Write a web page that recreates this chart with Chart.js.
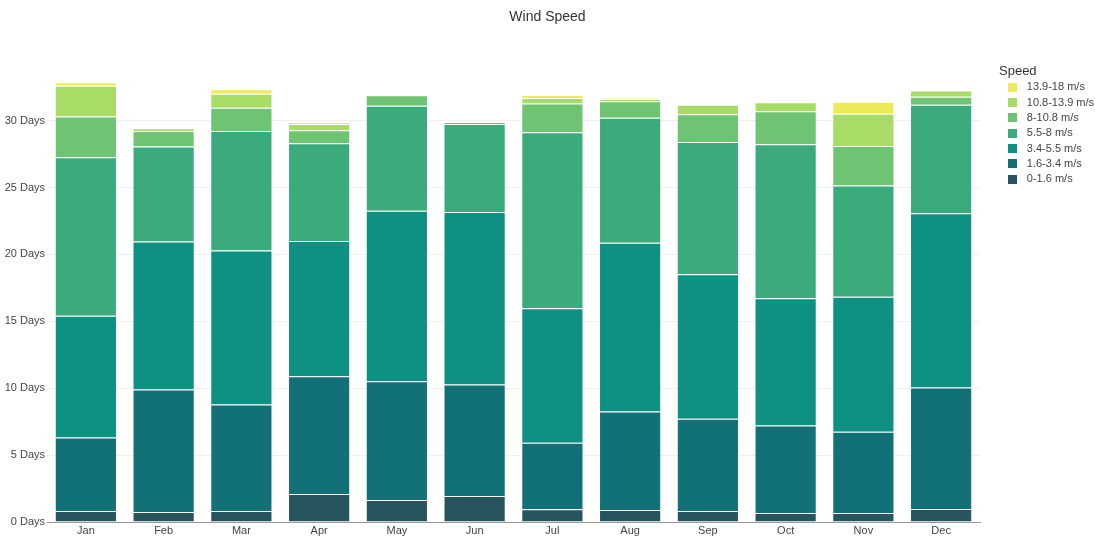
<!DOCTYPE html>
<html>
<head>
<meta charset="utf-8">
<script src="https://cdn.jsdelivr.net/npm/chart.js@4.4.1/dist/chart.umd.min.js"></script>
<style>
  html, body { margin: 0; padding: 0; background: #ffffff; }
  #wrap { width: 1095px; height: 538px; position: relative; }
</style>
</head>
<body>
<div id="wrap"><canvas id="c"></canvas></div>
<script>
// ---- data ----
const months = ['Jan','Feb','Mar','Apr','May','Jun','Jul','Aug','Sep','Oct','Nov','Dec'];
const seriesNames = ['0-1.6 m/s','1.6-3.4 m/s','3.4-5.5 m/s','5.5-8 m/s','8-10.8 m/s','10.8-13.9 m/s','13.9-18 m/s'];
const speed0_16    = [0.82, 0.75, 0.82, 2.09, 1.64, 1.94, 0.95, 0.90, 0.82, 0.67, 0.67, 0.97];
const speed16_34   = [5.50, 9.15, 7.96, 8.81, 8.88, 8.33, 4.97, 7.36, 6.89, 6.54, 6.07, 9.08];
const speed34_55   = [9.10, 11.07, 11.52, 10.10, 12.74, 12.91, 10.05, 12.61, 10.80, 9.51, 10.10, 13.03];
const speed55_8    = [11.84, 7.09, 8.93, 7.31, 7.86, 6.57, 13.16, 9.35, 9.90, 11.51, 8.31, 8.11];
const speed8_108   = [3.04, 1.17, 1.74, 0.97, 0.77, 0.13, 2.16, 1.22, 2.06, 2.47, 2.96, 0.60];
const speed108_139 = [2.31, 0.20, 1.04, 0.47, 0.00, 0.00, 0.40, 0.18, 0.72, 0.67, 2.41, 0.47];
const speed139_18  = [0.25, 0.00, 0.33, 0.15, 0.00, 0.00, 0.23, 0.05, 0.00, 0.00, 0.90, 0.00];
const yTickStep = 5;
const yMax = 33;
const yTickSuffix = ' Days';

// ---- styles ----
const colors = ['#26545f', '#117177', '#0e9183', '#3bab7e', '#6ec473', '#a9db67', '#ebeb5a'];
const allSeries = [speed0_16, speed16_34, speed34_55, speed55_8, speed8_108, speed108_139, speed139_18];
const FONT = "'Liberation Sans', Arial, sans-serif";

// small square swatches for the legend
const swatches = colors.map(c => {
  const cv = document.createElement('canvas');
  cv.width = 9; cv.height = 9;
  const g = cv.getContext('2d');
  g.fillStyle = c; g.fillRect(0, 0, 9, 9);
  return cv;
});

const datasets = allSeries.map((vals, i) => ({
  label: seriesNames[i],
  data: vals,
  backgroundColor: colors[i],
  borderColor: 'rgba(255,255,255,0.25)',
  borderWidth: 1,
  stack: 's'
}));

new Chart(document.getElementById('c'), {
  type: 'bar',
  data: { labels: months, datasets },
  options: {
    responsive: true,
    maintainAspectRatio: false,
    animation: false,
    layout: { padding: 0 },
    datasets: { bar: { categoryPercentage: 1.0, barPercentage: 0.8 } },
    plugins: {
      title: {
        display: true,
        text: 'Wind Speed',
        color: '#333',
        font: { family: FONT, size: 14, weight: 'normal', lineHeight: 1.2 },
        padding: { top: 9, bottom: 54.7 }
      },
      legend: {
        display: true,
        position: 'right',
        align: 'start',
        reverse: true,
        maxWidth: 96,
        title: {
          display: true,
          text: 'Speed',
          position: 'start',
          color: '#333',
          font: { family: FONT, size: 13, lineHeight: 1 },
          padding: { top: 64.5, bottom: 0 }
        },
        labels: {
          usePointStyle: true,
          pointStyleWidth: 18,
          boxHeight: 9,
          padding: 4.3,
          color: '#444',
          font: { family: FONT, size: 11 },
          generateLabels: (chart) => {
            const items = Chart.defaults.plugins.legend.labels.generateLabels(chart);
            items.forEach(it => { it.pointStyle = swatches[it.datasetIndex]; it.lineWidth = 0; });
            return items;
          }
        }
      },
      tooltip: { enabled: false }
    },
    scales: {
      x: {
        stacked: true,
        grid: { display: false, drawTicks: false },
        border: { display: true, color: '#9a9a9a', width: 1 },
        ticks: { color: '#444', padding: 2, font: { family: FONT, size: 11 } },
        afterFit: (s) => { s.height = 16; }
      },
      y: {
        stacked: true,
        min: 0,
        max: yMax,
        bounds: 'data',
        grid: { color: 'rgba(0,0,0,0.06)', drawTicks: false },
        border: { display: false },
        ticks: {
          stepSize: yTickStep,
          color: '#444',
          padding: 2,
          font: { family: FONT, size: 11 },
          callback: (v) => v + yTickSuffix
        },
        afterBuildTicks: (s) => { s.ticks = s.ticks.filter(t => t.value % yTickStep === 0); },
        afterFit: (s) => { s.width = 47; }
      },
      yGap: {
        type: 'linear',
        position: 'right',
        display: true,
        grid: { display: false, drawTicks: false },
        border: { display: false },
        ticks: { display: false },
        afterFit: (s) => { s.width = 19; }
      }
    }
  }
});
</script>
</body>
</html>
